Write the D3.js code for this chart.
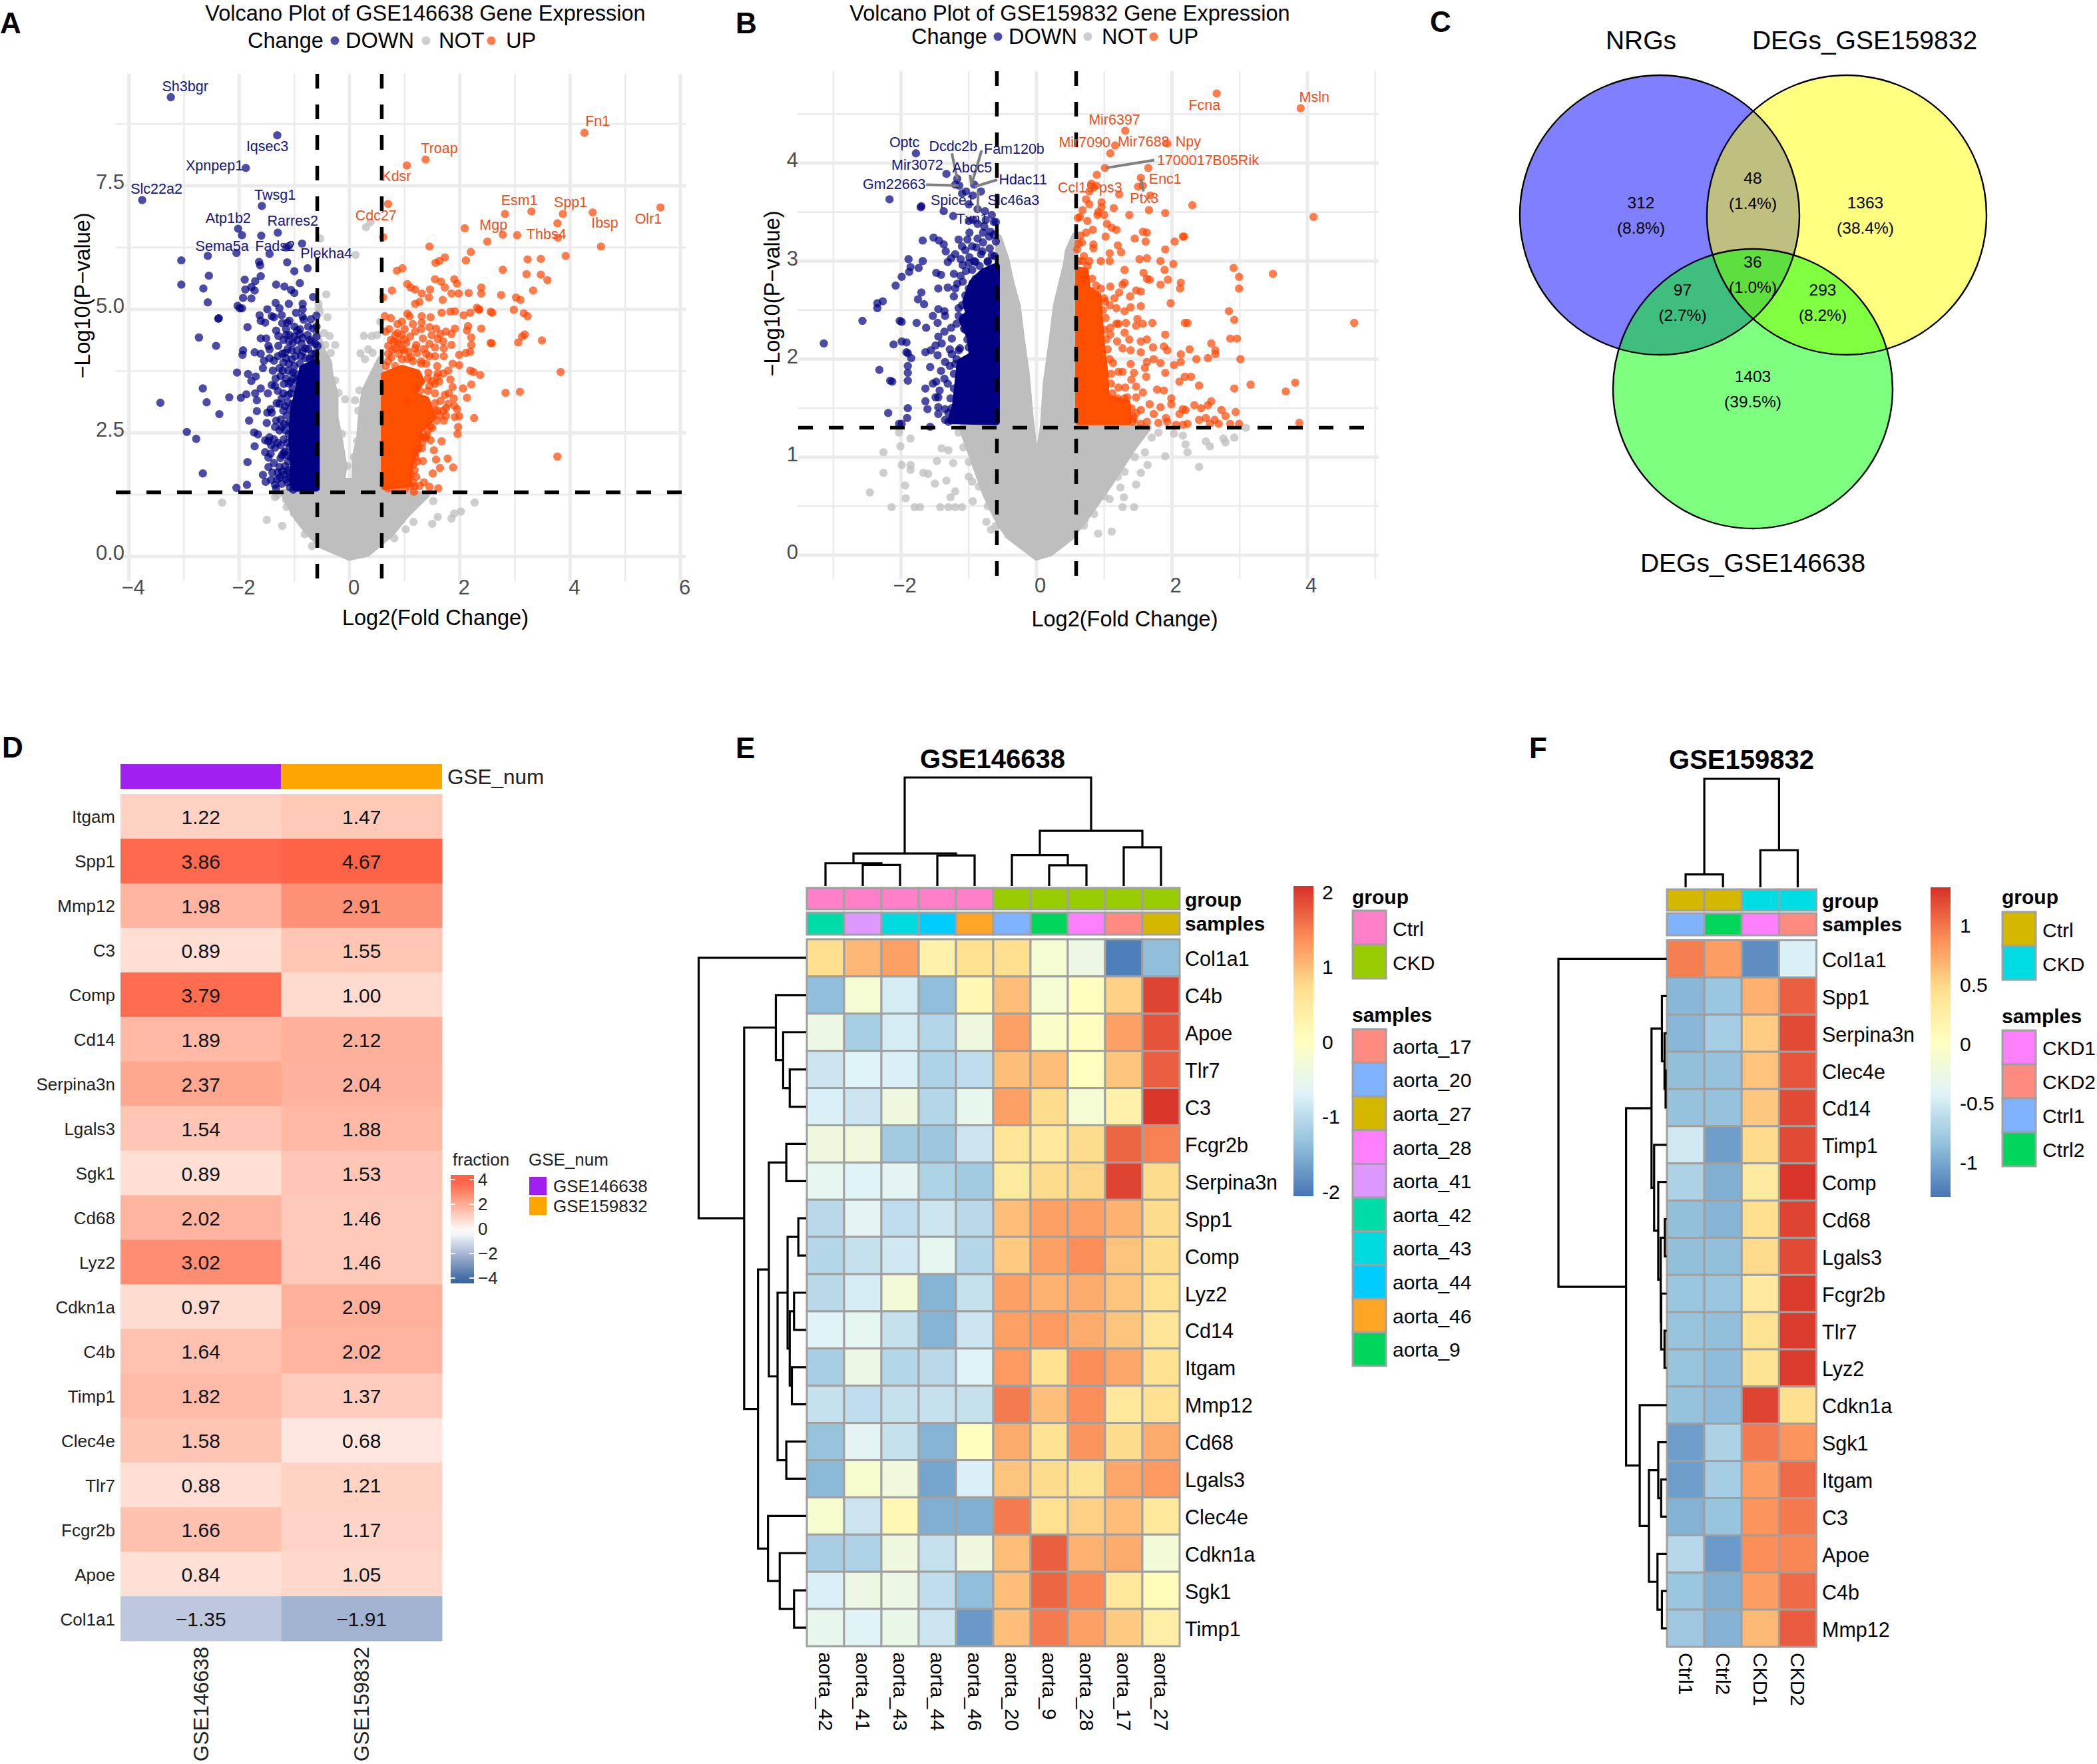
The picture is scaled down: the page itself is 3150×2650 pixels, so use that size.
<!DOCTYPE html>
<html><head><meta charset="utf-8">
<script src="https://cdn.jsdelivr.net/npm/d3@7/dist/d3.min.js"></script>
<style>html,body{margin:0;padding:0;background:#fff}svg{display:block}text{font-family:"Liberation Sans",Arial,sans-serif}</style>
</head><body><svg id="c" width="3150" height="2650" viewBox="0 0 3150 2650"></svg>
<script>
// ---------- Panel A: volcano GSE146638 (log2FC, -log10 P) ----------
const aDown=[[-3.24,9.29],[-1.31,8.52],[-1.88,7.86],[-3.76,7.21],[-1.59,7.09],[-2.02,6.63],[-1.95,6.5],[-1.6,6.49],[-1.3,6.55],[-.86,6.33],[-1.1,6.28],[-1.15,6.25],[-2.57,6.08],[-2.05,6.14],[-3.05,5.99],[-1.45,6.12],[-1.64,5.96],[-1.62,5.89],[-1.13,5.95],[-.76,5.83],[-1,5.77],[-2.55,5.68],[-1.61,5.67],[-1.9,5.6],[-3.05,5.5],[-2.65,5.42],[-1.89,5.4],[-1.71,5.57],[-1.78,5.45],[-1.72,5.38],[-1.33,5.5],[-.9,5.53],[-1.18,5.46],[-1.06,5.39],[-1.78,5.22],[-1.93,5.23],[-1,5.33],[-.66,5.25],[-2.57,5.14],[-1.34,5.13],[-1.1,5.11],[-.85,5.11],[-2.03,5.07],[-1.95,5.02],
[-2.38,4.81],[-2.37,4.82],[-2.73,4.43],[-2.42,4.26],[-2.66,3.4],[-2.59,3.12],[-3.43,3.11],[-2.36,2.88],[-2.95,2.52],[-2.78,2.38],[-2.66,1.68],
[-1.99,5.02],[-1.63,4.88],[-1.61,4.77],[-1.53,4.73],[-1.41,4.86],[-1.37,4.84],[-1.23,4.88],[-1.09,4.77],[-1.13,4.73],[-.83,4.79],[-.85,5],[-.6,4.87],[-.97,4.93],[-1.49,5],[-1.27,5.02],[-1.85,4.64],[-1.33,4.57],[-1.29,4.46],[-1.61,4.41],[-1.51,4.41],[-1.09,4.48],[-1.15,4.48],[-.95,4.57],[-.76,4.48],[-.66,4.61],[-.7,4.34],[-.58,4.26],[-1.47,4.26],[-1.29,4.26],[-.87,4.3],[-1.03,4.32],[-.8,4.21],[-1.93,4.17],[-1.94,4.08],[-1.72,4.13],[-1.61,4.1],[-1.45,4.19],[-1.55,3.96],[-1.45,4.01],[-1.37,3.96],[-1.17,4.12],[-1.15,4.01],[-1.05,3.99],[-.95,4.17],[-.8,4.01],[-.68,4.1],[-1.05,4.17],[-1.57,3.81],[-1.39,3.76],[-1.27,3.81],[-1.11,3.76],[-1.03,3.72],[-2.04,3.72],[-1.84,3.69],[-1.7,3.64],[-1.78,3.55],[-1.34,3.6],[-.83,3.76],[-1.21,3.76],[-1.61,3.4],[-1.87,3.28],[-1.97,3.21],[-2.18,3.22],[-1.71,3.3],[-1.48,3.3],[-1.68,3.16],[-1.35,3.45],[-1.41,3.47],[-1.19,3.49],[-1.07,3.54],[-1.23,3.2],[-1.11,3.27],[-1.03,3.4],[-1.68,2.94],[-1.43,2.98],[-1.49,2.91],[-1.41,2.91],[-1.82,2.75],[-1.5,2.7],[-1.27,3.09],[-1.17,3.04],[-1.25,2.77],[-1.03,3.09],[-1.73,2.51],[-1.66,2.47],[-1.23,2.62],[-1.27,2.55],[-1.19,2.37],[-1.45,2.41],[-1.53,2.35],[-1.47,2.33],[-1.37,2.37],[-1.05,2.66],[-1.72,2.23],[-1.53,2.11],[-1.43,2.08],[-1.47,2],[-1.25,1.99],[-1.17,2.12],[-1.85,1.91],[-1.47,1.81],[-1.37,1.89],[-1.27,1.81],[-1.19,2.1],[-1.57,1.65],[-1.52,1.51],[-1.86,1.45],[-2.05,1.39],[-1.31,1.56],[-1.35,1.45],[-1.19,1.65],[-1.33,1.38],[-1.15,1.56],[-1.23,1.47],[-1.09,1.7],[-1.11,1.92],[-1.17,1.83],
[-1.1,3.5],[-1.06,3.3],[-1.12,3.12],[-1.08,2.98],[-1.14,2.85],[-1.1,2.7],[-1.16,2.55],[-1.1,2.48],[-1.13,2.3],[-1.08,2.22],[-1.13,2.05],[-1.06,2],[-1.12,1.75],[-1.07,1.6],[-1.12,1.5],[-1.08,1.4],[-1.02,1.35],[-.96,3.55],[-.9,3.62],[-.98,3.7],[-.72,3.85],[-.66,3.98],[-.9,3.9],[-.88,4.05],[-.75,4.2],[-.62,4.1],[-.72,4.38],[-.85,4.42],[-.95,4.38],[-.6,4.45],[-1,3.85],[-1.1,3.9],[-1.2,3.92],[-1.2,3.3],[-1.3,3.35],[-1.32,3.1],[-1.2,2.95],[-1.33,2.75],[-1.18,2.68],[-1.3,2.3],[-1.35,2.2],[-1.25,2.25],[-1.22,2.05],[-1.3,1.7],[-1.22,1.72],[-1.26,1.6],[-1.42,1.55],[-1.4,1.7],[-1.42,2.25],[-1.35,2.62],[-.9,4.6],[-.75,4.65],[-.85,4.85],[-.7,4.8],[-1,4.65],[-1.15,4.6],[-1.22,4.72],[-.6,4.65],[-.62,4.3],[-.9,4.5],[-1,4.45],[-1.1,4.35],[-1.2,4.38],[-1.22,4.1],[-.85,4.15],[-1.12,4.2],[-.98,4.05],[-.72,4],[-1.3,4.05],[-1.25,3.65],[-1.15,3.6],[-1.02,3.6]];
const aUp=[[4.26,8.57],[1.38,8.03],[1.04,7.91],[.7,7.13],[5.64,7.06],[3.3,6.98],[2.82,6.93],[3.87,6.93],[4.41,6.96],[3.77,6.74],[2.09,6.64],[.61,6.46],[2.78,6.51],[3.04,6.5],[3.78,6.45],[2.5,6.37],[1.45,6.27],[4.56,6.27],[2.2,6.16],[3.92,6.08],[1.73,6.05],[1.63,5.98],[1.56,5.94],[2.11,5.99],[3.23,6.01],[3.47,6.02],[.86,5.78],[.96,5.83],[2.78,5.8],[3.21,5.71],[3.47,5.7],[3.59,5.59],[1.55,5.61],[1.66,5.56],[1.9,5.61],[1.95,5.52],[1.05,5.51],[1.19,5.4],[1.11,5.44],[1.73,5.44],[1.85,5.32],[1.98,5.32],[2.16,5.33],[2.39,5.44],[2.39,5.32],[.77,5.38],[.61,5.24],[1.46,5.4],[1.31,5.32],[1.44,5.24],[1.27,5.15],[1.19,5.11],[1.69,5.19],[2.75,5.29],[3.33,5.38],[3.02,5.24],[3.1,5.19],[2.31,5.03],[2.35,4.99],[2.98,4.99],[3.16,4.92],[3.23,4.86],[3.18,4.49],[3.13,4.45],[3.06,4.33],[3.49,4.37],[2.59,4.93],[3.83,3.73],[2.83,3.31],[3.09,3.33],[3.77,2.02],[2.58,4.31],
[.64,4.86],[.75,4.82],[.87,4.7],[1.05,4.91],[1.09,4.86],[1.31,4.86],[1.47,4.84],[1.31,4.73],[1.67,4.93],[1.83,4.95],[1.91,4.96],[2.07,4.88],[2.19,4.93],[2.35,5],[2.56,4.95],[2.15,4.66],[2.39,4.61],[1.45,4.64],[1.57,4.61],[1.91,4.61],[.83,4.48],[.95,4.48],[1.19,4.55],[.87,4.34],[1.03,4.32],[1.21,4.28],[1.33,4.41],[1.49,4.48],[1.65,4.5],[1.85,4.5],[2.13,4.57],[2.21,4.43],[2.56,4.32],[2.21,4.28],[1.85,4.28],[.7,4.26],[1.55,4.23],[1.71,4.21],[1.99,4.08],[2.11,4.12],[2.19,4.14],[1.87,3.9],[1.99,3.87],[1.71,4.05],[1.55,4.05],[1.39,4.1],[1.23,4.12],[1.07,4.14],[.95,3.99],[.76,4.03],[1.59,3.85],[1.39,3.9],[.66,3.85],[.83,3.85],[1.79,3.76],[2.19,3.76],[2.25,3.73],[2.37,3.67],[2.21,3.48],[2.06,3.4],[2.13,3.21],[1.87,3.43],[1.83,3.58],[1.89,3.2],[1.63,3.54],[1.73,3.27],[1.55,3.49],[1.59,3.63],[1.43,3.72],[1.95,2.98],[1.99,2.84],[1.91,2.82],[2.26,2.8],[1.97,2.62],[1.96,2.48],[1.75,3],[1.79,3.09],[1.63,2.86],[1.71,2.75],[1.55,2.95],[1.47,2.64],[1.67,2.33],[1.47,2.35],[1.37,2.41],[1.31,2.19],[1.53,2.15],[1.57,1.96],[1.78,1.98],[1.33,1.93],[1.64,1.79],[1.88,1.8],[1.51,1.68],[1.21,1.61],[1.23,1.92],[1.35,1.5],[1.45,1.41],[1.61,1.38],[1.27,1.43],[1.17,1.31],[.87,4.52],[.99,4.39],[.83,4.21],[.99,4.17],[1.19,4.21],[1.11,4.03],
[.7,4.1],[.78,4.18],[.9,4.1],[1.05,4],[1.15,3.95],[1.3,3.9],[1.42,3.6],[1.45,3.45],[1.2,3.4],[1.28,3.35],[1.42,3.35],[1.05,3.15],[1.55,3.1],[1.6,2.95],[1.58,2.75],[1.5,2.6],[1.42,2.55],[1.38,2.4],[1.3,2.42],[1.32,2.3],[1.25,2.18],[1.2,2.1],[1.2,2],[1.15,1.85],[1.18,1.75],[1.12,1.65],[1.15,1.5],[1.1,1.42],[1.18,1.42],[.7,1.38],[.85,1.36],[1,1.36],[.75,4.38],[.9,4.3],[.65,4.55],[.95,4.2],[.7,3.95],[.95,4.75],[1.15,4.7],[.72,4.6],[.8,4.35],[1,4.6],[1.1,4.45],[1.3,4.6],[1.35,4.2],[1.45,4.3],[1.45,4.05],[1.3,3.95],[1.6,4.4],[1.7,4.35],[1.75,4.55],[1.6,3.7],[1.7,3.7],[1.5,3.55],[1.55,3.3],[1.65,3.15],[1.7,2.95],[1.75,2.85],[1.8,3.3],[1.9,3.05],[1.4,2.45]];
const aNot=[[-.53,6.43],[.11,6.1],[.3,6.66],[.38,6.76],[-.42,5.3],[-.56,5.11],[-.56,5.02],[-.54,4.95],[-.4,4.84],[-.46,4.52],[-.36,4.46],[-.26,4.28],[-.34,4.12],[-.44,4.28],[.26,4.46],[.4,4.46],[.5,4.48],[.34,4.19],[.2,4.11],[.28,3.99],[.42,4.12],[.56,4.75],[-.08,3.18],[.1,3.16],[.18,3.36],[-.2,3.31],[.16,2.95],[-.14,2.48],[.14,2.33],[.08,2.01],[-.04,1.83],[-.38,3.87],[-.26,3.56],
[-2.31,1.09],[-1.5,.74],[-1.22,.62],[-1.14,1],[-1.01,.87],[-.85,.66],[-.81,.45],[-.68,.21],[-1.31,1.24],[-1.35,1.2],[2.27,1.09],[2.02,.91],[1.9,.87],[1.85,.77],[1.6,.8],[1.5,.66],[1.16,.7],[1.02,.55],[.81,.37],[1.52,1.12],[1.19,1.08],[.98,.95],[-1.15,1.15],[-1.05,1.05],[-.9,.85],[-.75,.65],[1.15,1.2],[1.05,1.05],[.9,.8],[.75,.55],[1.25,1.18],[.6,.35]];
const aNotMass=[[0,-.02],[-.5,.22],[-.74,.48],[-.95,.78],[-1.12,1.12],[-1.2,1.3],[-.6,1.3],[-.6,4.55],[-.5,4.17],[-.38,3.94],[-.36,3.72],[-.26,3.27],[-.26,2.82],[-.18,2.37],[-.1,1.83],[-.14,1.52],[.1,1.52],[.1,2.01],[.18,2.37],[.2,2.68],[.24,3.09],[.28,3.36],[.44,3.72],[.56,3.99],[.58,1.3],[1.4,1.25],[1.05,.87],[.75,.46],[.32,.06]];
const aDownMass=[[-.6,3.94],[-.85,3.81],[-.93,3.36],[-1.02,2.95],[-1.05,2.37],[-1.02,1.92],[-1.03,1.47],[-.98,1.38],[-.6,1.38]];
const aUpMass=[[.63,3.67],[.95,3.81],[1.23,3.72],[1.31,3.54],[1.11,3.27],[1.39,3.18],[1.51,2.82],[1.27,2.55],[1.23,2.28],[1.09,1.83],[1.07,1.47],[.63,1.41]];
const aDownLabels=[["Sh3bgr",-2.98,9.5],["Iqsec3",-1.49,8.3],["Xpnpep1",-2.45,7.91],["Slc22a2",-3.5,7.43],["Twsg1",-1.35,7.31],["Atp1b2",-2.2,6.84],["Rarres2",-1.03,6.78],["Sema5a",-2.31,6.27],["Fads2",-1.35,6.27],["Plekha4",-.42,6.12]];
const aUpLabels=[["Fn1",4.5,8.8],["Troap",1.63,8.26],["Kdsr",.85,7.69],["Cdc27",.48,6.9],["Esm1",3.08,7.2],["Spp1",4.01,7.16],["Mgp",2.61,6.7],["Thbs4",3.57,6.52],["Ibsp",4.63,6.74],["Olr1",5.42,6.83]];
// ---------- Panel B: volcano GSE159832 ----------
const bDown=[[-1.78,4.1],[-1.33,3.89],[-1.17,3.84],[-1.2,3.78],[-1.14,3.77],[-.92,3.78],[-.82,3.71],[-2.17,3.63],[-1.7,3.56],[-1.1,3.69],[-1.04,3.71],[-.94,3.67],[-1,3.58],[-2.27,2.59],[-2.35,2.57],[-2.35,2.52],[-2.57,2.39],[-3.14,2.16],[-2.32,1.89],[-2.16,1.78],[-2.19,1.45],[-2.03,1.34],[-1.57,1.31],
[-1.71,3.55],[-1.37,3.51],[-1.23,3.46],[-1,3.41],[-.87,3.53],[-.76,3.51],[-.66,3.47],[-.87,3.38],[-.77,3.35],[-.63,3.4],[-.99,3.29],[-.79,3.29],[-.63,3.27],[-1.15,3.22],[-.87,3.23],[-1.02,3.22],[-1.68,3.21],[-1.52,3.24],[-1.44,3.21],[-1.37,3.17],[-1.34,3.1],[-1.1,3.15],[-1.05,3.11],[-.89,3.14],[-.79,3.19],[-.69,3.13],[-1.2,3.07],[-1.26,3.03],[-1.31,2.99],[-1.12,3.02],[-.99,3.04],[-.82,3.07],[-.66,3.06],[-.9,2.99],[-1.09,2.96],[-.72,2.99],[-1.04,2.9],[-.95,2.91],[-1.89,3.02],[-1.68,3],[-1.86,2.94],[-1.74,2.93],[-1.88,2.89],[-1.99,2.84],[-1.48,2.88],[-1.41,2.86],[-1.22,2.87],[-2.08,2.75],[-1.45,2.72],[-1.31,2.73],[-1.17,2.77],[-1.7,2.68],[-1.2,2.72],[-1.22,2.64],[-1.75,2.61],[-1.66,2.56],[-1.09,2.79],[-1.45,2.51],[-1.36,2.49],[-1.35,2.44],[-1.53,2.44],[-1.46,2.37],[-1.15,2.44],[-2.02,2.39],[-1.99,2.38],[-1.77,2.37],[-1.63,2.32],[-1.36,2.28],[-1.26,2.32],[-1.18,2.36],[-1.07,2.31],[-1.45,2.23],[-1.25,2.21],[-1.4,2.16],[-1.49,2.14],[-1.13,2.11],[-1.99,2.18],[-1.92,2.17],[-2.11,2.15],[-1.64,2.07],[-1.56,2.09],[-1.92,2.07],[-1.9,2.06],[-1.85,2.01],[-1.46,2.04],[-1.15,2.09],[-1.57,1.92],[-1.9,1.93],[-1.9,1.86],[-1.9,1.78],[-1.35,1.97],[-1.28,1.93],[-1.41,1.88],[-1.48,1.77],[-1.36,1.8],[-1.31,1.75],[-2.13,1.77],[-1.64,1.7],[-1.53,1.75],[-1.43,1.68],[-1.49,1.61],[-1.45,1.61],[-1.64,1.57],[-1.9,1.5],[-1.61,1.49],[-1.45,1.51],[-1.35,1.49],[-1.45,1.44],[-1.91,1.4],[-1.99,1.34],[-1.3,1.36],
[-1.05,2.65],[-1,2.72],[-.9,2.82],[-.84,2.95],[-.72,3],[-.62,3.05],[-1.1,2.55],[-1.15,2.52],[-1.08,2.42],[-1.05,2.3],[-1.02,2.2],[-1,2.12],[-.95,2.1],[-1.2,1.95],[-1.22,1.85],[-1.22,1.7],[-1.27,1.6],[-1.25,1.5],[-1.3,1.45],[-1.35,1.38],[-1.18,2],[-1.25,2.05],[-1.28,2.1],[-.92,3],[-.8,3.1],[-.95,3.15],[-.7,3.25],[-.75,3.42],[-.68,3.3],[-.93,3.42],[-1.12,2.85],[-1,2.98],[-.6,3.2],[-.6,3.4]];
const bUp=[[2.66,4.71],[3.9,4.56],[1.31,4.33],[1.16,4.18],[1.09,4.1],[1.93,4.2],[1.01,3.95],[1.65,3.95],[.89,3.88],[1.54,3.85],[1.5,3.76],[1.57,3.77],[.81,3.79],[.84,3.75],[.78,3.71],[.88,3.77],[1.22,3.68],[1.68,3.67],[.73,3.63],[.96,3.6],[2.3,3.57],[4.09,3.45],[.78,3.58],[.91,3.5],[.61,3.44],[2.18,3.25],[2.91,2.93],[3.49,2.87],[2.99,2.84],[2.99,2.72],[2.84,2.49],[2.92,2.4],[2.23,2.37],[4.69,2.37],[2.86,2.21],[2.96,2.21],[2.58,2.16],[2.64,2.09],[2.64,2.05],[2.53,2.01],[2.26,2.1],[2.36,2],[3.01,2],[3.16,1.74],[3.82,1.76],[3.68,1.67],[2.92,1.7],[2.28,1.82],[2.4,1.73],[2.58,1.57],[2.53,1.53],[2.33,1.53],[2.43,1.5],[2.2,1.48],[2.73,1.48],[2.94,1.46],[2.79,1.42],[2.5,1.4],[2.63,1.38],[2.4,1.38],[2.23,1.34],[2.86,1.34],[2.99,1.34],[2.69,1.34],[2.56,1.34],[3.88,1.35],
[.68,3.52],[.96,3.55],[1.14,3.54],[1.37,3.47],[1.66,3.52],[1.9,3.49],[.64,3.45],[.75,3.41],[.9,3.47],[1,3.47],[1.04,3.38],[1.11,3.34],[1.18,3.32],[.83,3.32],[.73,3.29],[.65,3.26],[.67,3.19],[.84,3.17],[.84,3.13],[1.02,3.25],[1.45,3.23],[1.57,3.3],[1.63,3.29],[1.61,3.2],[1.2,3.16],[1.25,3.09],[1.08,3.08],[1.9,3.12],[2.04,3.2],[2.16,3.25],[.78,3],[.95,3],[1.08,3],[1.52,3.02],[1.63,3.03],[1.83,3],[2.02,2.97],[1.3,2.91],[1.58,2.88],[1.89,2.91],[1.63,2.82],[1.67,2.81],[1.94,2.81],[1.83,2.76],[1.3,2.78],[1.27,2.76],[2.13,2.78],[2.12,2.72],[1.09,2.74],[1.22,2.68],[1.38,2.64],[1.47,2.7],[1.54,2.69],[1.98,2.57],[1.54,2.54],[1.01,2.59],[1.18,2.52],[1.3,2.49],[1.39,2.53],[1.49,2.41],[1.32,2.37],[1.47,2.34],[1.57,2.36],[1.71,2.37],[1.9,2.25],[1.3,2.27],[1.18,2.36],[1.21,2.36],[1.09,2.32],[2.19,2.37],[1.09,2.25],[1.19,2.18],[1.37,2.2],[1.54,2.18],[1.63,2.2],[1.72,2.12],[1.88,2.13],[1.93,2.09],[1.27,2.11],[1.39,2.09],[1.54,2.07],[2.13,2.05],[2.03,1.94],[2.13,1.97],[1.63,1.97],[1.73,2],[1.83,1.96],[1.9,1.86],[1.6,1.91],[1.13,1.96],[1.39,1.95],[1.21,1.87],[1.27,1.87],[1.44,1.86],[1.62,1.82],[2.11,1.77],[2.19,1.82],[1.4,1.79],[1.47,1.72],[1.21,1.71],[1.31,1.71],[1.78,1.69],[1.88,1.68],[1.57,1.66],[1.99,1.6],[1.99,1.54],[1.67,1.54],[1.47,1.61],[1.34,1.61],[1.83,1.51],[2.16,1.49],[1.54,1.48],[1.73,1.44],[1.47,1.45],[2.11,1.44],[1.91,1.4],[1.44,1.39],[1.63,1.36],[1.8,1.35],[1.93,1.36],[2.06,1.33],[1.54,1.34],[2.16,1.33],
[.68,3],[.75,2.95],[.82,2.82],[.88,2.75],[.95,2.72],[1,2.62],[.98,2.5],[1.02,2.42],[1,2.3],[1.03,2.2],[1.05,2.1],[1.08,2],[1.1,1.85],[1.1,1.75],[1.12,1.65],[1.2,1.6],[1.3,1.6],[1.4,1.5],[1.42,1.42],[1.42,1.36],[.62,3],[.68,2.8],[.6,3.12],[.62,3.18],[.72,2.85],[1.08,2.55],[1.15,2.62],[.7,3.05]];
const bNot=[[-2.46,.64],[-2.26,1.05],[-2.26,.84],[-2.14,.49],[-2.01,1.11],[-2.03,1.25],[-1.86,1.19],[-1.99,.92],[-1.86,.92],[-1.86,.87],[-1.94,.71],[-1.93,.58],[-1.8,.49],[-1.72,.49],[-1.67,.84],[-1.6,.83],[-1.5,.73],[-1.47,.96],[-1.4,1.09],[-1.3,1.07],[-1.23,.94],[-1.42,.49],[-1.3,.49],[-1.2,.49],[-1.1,.49],[-.94,.55],[-1.27,.59],[-1.2,.65],[-1.33,.76],[-1,.8],[-.74,.34],[-.67,.26],[-.54,.3],[2.4,.9],[3.09,1.3],[2.92,1.2],[2.79,1.15],[2.76,1.19],[2.56,1.11],[2.5,1.16],[2.2,1.13],[2.23,1.05],[2.16,1.22],[2.03,1.24],[1.9,1.01],[1.64,.92],[1.54,.84],[1.47,.72],[1.44,.49],[1.27,.49],[1.29,.59],[1.08,.57],[1.11,.24],[.91,.22],[.71,.36],[1.24,.69],[1.04,.76],[-1.15,1.25],[-1.08,1.1],[-1,.95],[-.95,.75],[-.85,.7],[-.72,.5],[-.6,.3],[1.7,1.2],[1.6,1.05],[1.45,1],[1.3,.85],[1.2,.8],[1,.6],[.85,.42],[.7,.3],[1.8,1.25],[1.55,1.25]];
const bNotMass=[[0,-.02],[-.42,.2],[-.6,.4],[-.75,.62],[-.92,.95],[-1.05,1.2],[-1.1,1.3],[-.58,1.3],[-.56,3.24],[-.45,3.02],[-.38,2.79],[-.28,2.54],[-.22,2.2],[-.15,1.86],[-.09,1.39],[0,.88],[.1,1.32],[.14,1.75],[.23,2.2],[.29,2.54],[.39,2.83],[.44,2.97],[.47,3.11],[.57,3.26],[.58,1.3],[1.65,1.3],[1.45,1.12],[1.1,.75],[.8,.45],[.5,.18],[.2,.02]];
const bDownMass=[[-.59,2.95],[-.79,2.89],[-.95,2.78],[-1.05,2.58],[-1,2.47],[-1.1,2.4],[-.98,2.22],[-.95,2.04],[-1.13,1.97],[-1.17,1.7],[-1.2,1.52],[-1.27,1.37],[-.59,1.36]];
const bUpMass=[[.62,2.91],[.72,2.9],[.75,2.72],[.91,2.65],[.93,2.43],[.96,2.16],[1.01,1.86],[1.03,1.61],[1.34,1.55],[1.36,1.36],[.62,1.36]];
const bDownLabels=[["Optc",-1.95,4.21],["Dcdc2b",-1.23,4.17],["Fam120b",-.33,4.14],["Mir3072",-1.76,3.98],["Abcc5",-.95,3.95],["Gm22663",-2.1,3.78],["Hdac11",-.2,3.83],["Spice1",-1.24,3.62],["Slc46a3",-.34,3.62],["Txn1",-.95,3.43]];
const bUpLabels=[["Msln",4.1,4.67],["Fcna",2.48,4.59],["Mir6397",1.15,4.44],["Mir7090",.71,4.21],["Mir7688",1.58,4.22],["Npy",2.24,4.22],["1700017B05Rik",2.53,4.03],["Enc1",1.9,3.84],["Ccl19-ps3",.79,3.75],["Ptx3",1.59,3.64]];
const bSegments=[[-1.25,4.1,-1.17,3.84],[-.81,4.13,-.96,3.78],[-1.63,3.78,-1.15,3.77],[-.58,3.83,-.91,3.76],[-.86,3.71,-.87,3.5],[-.98,3.88,-.96,3.78],[1.74,4.03,1.02,3.95],[1.54,3.84,1.58,3.71]];
// ---------- Panel C: Venn ----------
const vennNames=["NRGs","DEGs_GSE159832","DEGs_GSE146638"];
const vennFills=["#0000ff","#ffff00","#00ff00"];
const vennCounts=["312","48","1363","97","36","293","1403"];
const vennPercents=["(8.8%)","(1.4%)","(38.4%)","(2.7%)","(1.0%)","(8.2%)","(39.5%)"];
// ---------- Panel D: log2FC table ----------
const dGenes=["Itgam","Spp1","Mmp12","C3","Comp","Cd14","Serpina3n","Lgals3","Sgk1","Cd68","Lyz2","Cdkn1a","C4b","Timp1","Clec4e","Tlr7","Fcgr2b","Apoe","Col1a1"];
const dDatasets=["GSE146638","GSE159832"];
const dGSE146638=[1.22,3.86,1.98,.89,3.79,1.89,2.37,1.54,.89,2.02,3.02,.97,1.64,1.82,1.58,.88,1.66,.84,-1.35];
const dGSE159832=[1.47,4.67,2.91,1.55,1.00,2.12,2.04,1.88,1.53,1.46,1.46,2.09,2.02,1.37,.68,1.21,1.17,1.05,-1.91];
const dLegendTicks=[4,2,0,-2,-4];
// ---------- Panel E: clustered heatmap GSE146638 ----------
const eRows=["Col1a1","C4b","Apoe","Tlr7","C3","Fcgr2b","Serpina3n","Spp1","Comp","Lyz2","Cd14","Itgam","Mmp12","Cd68","Lgals3","Clec4e","Cdkn1a","Sgk1","Timp1"];
const eCols=["aorta_42","aorta_41","aorta_43","aorta_44","aorta_46","aorta_20","aorta_9","aorta_28","aorta_17","aorta_27"];
const eGroups=["Ctrl","Ctrl","Ctrl","Ctrl","Ctrl","CKD","CKD","CKD","CKD","CKD"];
const eMatrix=[[.72,1.05,1.25,.35,.7,.72,-.2,-.4,-1.95,-1.35],[-1.35,-.2,-.75,-1.35,.2,1,-.2,.05,.85,1.95],[-.4,-1.15,-.75,-1.05,-.35,1.25,-.1,0,1.25,1.85],[-.85,-.65,-.7,-1.1,-.95,1,1,.03,.95,1.75],[-.7,-.85,-.35,-1.05,-.5,1.25,.75,-.2,.35,2.05],[-.35,-.3,-1.2,-1.25,-.85,.6,.55,.75,1.7,1.5],[-.55,-.65,-.6,-1.1,-1.2,.5,.75,.8,1.95,.75],[-1,-.6,-.95,-.85,-1,1,1.25,1.25,1.1,.75],[-1.05,-.9,-.8,-.55,-1.05,.9,1.25,1.4,.95,.75],[-1,-.75,-.25,-1.45,-.9,1.25,1.1,1.15,.95,.7],[-.65,-.55,-.9,-1.45,-.85,1.25,1.3,1.15,.95,.6],[-1.15,-.4,-1.05,-1,-.65,1.3,.7,1.4,1.2,.7],[-.9,-.95,-.9,-.9,-.9,1.55,1,1.4,.55,.7],[-1.3,-.6,-.9,-1.45,0,1.15,.65,1.35,.75,1.15],[-1.4,-.15,-.3,-1.6,-.7,.95,.75,.65,1.2,1.3],[-.15,-.85,.2,-1.5,-1.5,1.55,.7,.85,1,.55],[-1.15,-1.1,-.35,-.9,-.35,1,1.75,1.1,1.15,-.25],[-.7,-.4,-.4,-.95,-1.35,1,1.7,1.45,.55,.1],[-.5,-.65,-.45,-.85,-1.7,1,1.55,1.25,.9,.4]];
const eSampleLegend=["aorta_17","aorta_20","aorta_27","aorta_28","aorta_41","aorta_42","aorta_43","aorta_44","aorta_46","aorta_9"];
const eSampleColors=["#ff8a80","#7fb2ff","#d4b800","#ff80ff","#dd99ff","#00dca8","#00dbe0","#00ccff","#ffa526","#00d65c"];
const eGroupColors={Ctrl:"#ff7fc8",CKD:"#99cc00"};
// dendrograms: [height, childA, childB], numbers are leaf indices
const eColTree=[1,[.30,[.21,0,[.194,1,2]],[.282,3,4]],[.508,[.285,5,[.191,6,7]],[.357,8,9]]];
const eRowTree=[1,0,[.577,[.282,1,[.214,2,[.153,3,4]]],[.448,[.347,[.185,5,6],[.266,[.173,[.073,7,8],[.153,[.113,9,10],[.133,11,12]]],[.185,13,14]]],[.355,15,[.246,16,[.113,17,18]]]]]];
const eLegendTicks=[2,1,0,-1,-2];
const eDomain=[-2.04,2.1];
// ---------- Panel F: clustered heatmap GSE159832 ----------
const fRows=["Col1a1","Spp1","Serpina3n","Clec4e","Cd14","Timp1","Comp","Cd68","Lgals3","Fcgr2b","Tlr7","Lyz2","Cdkn1a","Sgk1","Itgam","C3","Apoe","C4b","Mmp12"];
const fCols=["Ctrl1","Ctrl2","CKD1","CKD2"];
const fGroups=["Ctrl","Ctrl","CKD","CKD"];
const fMatrix=[[.95,.8,-1.15,-.45],[-.9,-.8,.7,1.1],[-.9,-.75,.55,1.2],[-.85,-.83,.6,1.15],[-.83,-.83,.58,1.2],[-.5,-1.05,.48,1.2],[-.7,-.95,.3,1.3],[-.85,-.92,.45,1.23],[-.85,-.85,.48,1.2],[-.8,-.8,.32,1.27],[-.82,-.85,.42,1.27],[-.82,-.87,.42,1.27],[-.83,-.87,1.23,.45],[-1.05,-.7,.98,.85],[-1.05,-.75,.8,1.05],[-.93,-.82,.85,.98],[-.65,-1.07,.88,.92],[-.8,-.95,.8,1.05],[-.78,-.93,.65,1.12]];
const fSampleLegend=["CKD1","CKD2","Ctrl1","Ctrl2"];
const fSampleColors=["#ff80ff","#ff8a80","#7fb2ff","#00d65c"];
const fGroupColors={Ctrl:"#d4b800",CKD:"#00dce4"};
const fColTree=[1,[.119,0,1],[.342,2,3]];
const fRowTree=[1,0,[.375,[.14,[.044,1,[.02,2,[.01,3,4]]],[.116,5,[.078,6,[.055,[.017,7,8],[.051,9,[.02,10,11]]]]]],[.249,12,[.164,[.078,13,[.051,14,15]],[.085,16,[.044,17,18]]]]]];
const fLegendTicks=[1,.5,0,-.5,-1];
const fDomain=[-1.29,1.32];
const rdYlBu=["#4575b4","#91bfdb","#e0f3f8","#ffffbf","#fee090","#fc8d59","#d73027"];

const svg=d3.select("#c");
const txt=(g,s,x,y,size,o={})=>g.append("text").attr("x",x).attr("y",y).attr("font-size",size)
  .attr("text-anchor",o.anchor||"start").attr("dominant-baseline","central")
  .attr("font-weight",o.bold?"bold":"normal").attr("fill",o.fill||"#000")
  .attr("transform",o.rot?`rotate(${o.rot} ${x} ${y})`:null).text(s);

// ----- panel letters -----
[["A",0,34],["B",1105,34],["C",2148,32],["D",3,1122],["E",1105,1123],["F",2297,1123]].forEach(d=>txt(svg,d[0],d[1],d[2],44,{bold:true}));

// ----- volcano -----
function volcano(cfg){
  const g=svg.append("g");
  const x=d3.scaleLinear().domain(cfg.xDom).range(cfg.xRange);
  const y=d3.scaleLinear().domain(cfg.yDom).range(cfg.yRange);
  const [L,R,T,B]=cfg.box;
  const grid=(vals,w)=>{
    g.selectAll(null).data(vals.x).enter().append("line").attr("x1",d=>x(d)).attr("x2",d=>x(d)).attr("y1",T).attr("y2",B).attr("stroke","#ebebeb").attr("stroke-width",w);
    g.selectAll(null).data(vals.y).enter().append("line").attr("y1",d=>y(d)).attr("y2",d=>y(d)).attr("x1",L).attr("x2",R).attr("stroke","#ebebeb").attr("stroke-width",w);
  };
  grid(cfg.minor,2.6);grid(cfg.major,5);
  const poly=d3.line().x(d=>x(d[0])).y(d=>y(d[1])).curve(d3.curveLinearClosed);
  const mass=(pts,c)=>g.append("path").attr("d",poly(pts)).attr("fill",c).attr("stroke",c).attr("stroke-width",10).attr("stroke-linejoin","round");
  const dots=(pts,c,a)=>g.append("g").selectAll("circle").data(pts).enter().append("circle").attr("cx",d=>x(d[0])).attr("cy",d=>y(d[1])).attr("r",6.2).attr("fill",c).attr("fill-opacity",a);
  mass(cfg.notMass,"#bebebe");dots(cfg.not,"#bebebe",.75);
  mass(cfg.downMass,"#000080");mass(cfg.upMass,"#ff5000");
  dots(cfg.down,"#000080",.7);dots(cfg.up,"#ff4500",.7);
  const dash=(a,b,c,d)=>g.append("line").attr("x1",a).attr("y1",b).attr("x2",c).attr("y2",d).attr("stroke","#000").attr("stroke-width",5.5).attr("stroke-dasharray","22 24");
  dash(L,y(1.3),R,y(1.3));
  [-.585,.585].forEach(v=>dash(x(v),T,x(v),B));
  (cfg.segments||[]).forEach(s=>g.append("line").attr("x1",x(s[0])).attr("y1",y(s[1])).attr("x2",x(s[2])).attr("y2",y(s[3])).attr("stroke","#7f7f7f").attr("stroke-width",4));
  const lab=(arr,c)=>arr.forEach(d=>txt(g,d[0],x(d[1]),y(d[2]),21.5,{anchor:"middle",fill:c}));
  lab(cfg.downLabels,"#15157f");lab(cfg.upLabels,"#ee4f1a");
  // axes
  const ax=g.append("g").attr("transform",`translate(${cfg.xTickDx},${B-2})`).call(d3.axisBottom(x).tickValues(cfg.major.x).tickSize(0).tickPadding(0).tickFormat(d3.format("d")));
  const ay=g.append("g").attr("transform",`translate(${cfg.yTickX},${cfg.yTickDy})`).call(d3.axisLeft(y).tickValues(cfg.major.y).tickSize(0).tickPadding(0).tickFormat(cfg.yFmt));
  [ax,ay].forEach(a=>{a.select(".domain").remove();a.selectAll("text").attr("font-size",31).attr("fill","#4d4d4d").attr("font-family","Liberation Sans");});
  txt(g,cfg.title,cfg.titleX,20,32.5,{anchor:"middle"});
  txt(g,"Log2(Fold Change)",cfg.xLabel[0],cfg.xLabel[1],32.5,{anchor:"middle"});
  txt(g,"\u2212Log10(P\u2212value)",cfg.yLabel[0],cfg.yLabel[1],32.5,{anchor:"middle",rot:-90});
  const l=cfg.legend, ly=cfg.legendY;
  txt(g,"Change",l[0],ly,32.5);
  [["DOWN","#000080",.7,l[1],l[2]],["NOT","#bebebe",.75,l[3],l[4]],["UP","#ff4500",.7,l[5],l[6]]].forEach(e=>{
    g.append("circle").attr("cx",e[3]).attr("cy",ly).attr("r",6.5).attr("fill",e[1]).attr("fill-opacity",e[2]);
    txt(g,e[0],e[4],ly,32.5);
  });
}
volcano({xDom:[0,6],xRange:[525,1022],yDom:[0,7.5],yRange:[836,279],box:[174,1031,111,873],
  major:{x:[-4,-2,0,2,4,6],y:[0,2.5,5,7.5]},minor:{x:[-3,-1,1,3,5],y:[1.25,3.75,6.25,8.75]},
  not:aNot,notMass:aNotMass,down:aDown,downMass:aDownMass,up:aUp,upMass:aUpMass,downLabels:aDownLabels,upLabels:aUpLabels,
  xTickDx:6,yTickX:187,yTickDy:-5,yFmt:d3.format(".1f"),title:"Volcano Plot of GSE146638 Gene Expression",titleX:639,
  xLabel:[654,928],yLabel:[124,444],legend:[372,503,519,640,659,738,760],legendY:61});
volcano({xDom:[0,4],xRange:[1557,1964],yDom:[0,4],yRange:[834,245],box:[1199,2071,107,870],
  major:{x:[-2,0,2,4],y:[0,1,2,3,4]},minor:{x:[-3,-1,1,3,5],y:[.5,1.5,2.5,3.5,4.5]},
  not:bNot,notMass:bNotMass,down:bDown,downMass:bDownMass,up:bUp,upMass:bUpMass,downLabels:bDownLabels,upLabels:bUpLabels,segments:bSegments,
  xTickDx:5,yTickX:1199,yTickDy:-4,yFmt:d3.format("d"),title:"Volcano Plot of GSE159832 Gene Expression",titleX:1607,
  xLabel:[1689.5,929.6],yLabel:[1160,441],legend:[1369,1499,1515,1634,1655,1733,1755],legendY:55});

// ----- venn -----
(function(){
  const g=svg.append("g"),centers=[[2493,323],[2774,323],[2633,584]];
  centers.forEach((c,i)=>g.append("circle").attr("cx",c[0]).attr("cy",c[1]).attr("r",210).attr("fill",vennFills[i]).attr("fill-opacity",.5));
  centers.forEach(c=>g.append("circle").attr("cx",c[0]).attr("cy",c[1]).attr("r",210).attr("fill","none").attr("stroke","#000").attr("stroke-width",2.4));
  [[2465,60],[2801,60],[2633,845]].forEach((p,i)=>txt(g,vennNames[i],p[0],p[1],39,{anchor:"middle"}));
  [[2465,304],[2633,267],[2802,304],[2527.5,435],[2633,393],[2738,435],[2633,565]].forEach((p,i)=>{
    txt(g,vennCounts[i],p[0],p[1],24.5,{anchor:"middle"});
    txt(g,vennPercents[i],p[0],p[1]+38.5,24.5,{anchor:"middle"});
  });
})();

// ----- panel D -----
(function(){
  const g=svg.append("g");
  const c=d3.scaleLinear().domain([-4,0,4]).range(["#34669f","#ffffff","#ff6347"]).interpolate(d3.interpolateLab).clamp(true);
  const x=d3.scaleBand().domain(dDatasets).range([181,664]);
  const y=d3.scaleBand().domain(dGenes).range([1193,2465]);
  const cols=[dGSE146638,dGSE159832];
  const annot=["#a020f0","#ffa500"];
  dDatasets.forEach((ds,j)=>{
    g.append("rect").attr("x",x(ds)).attr("y",1148).attr("width",x.bandwidth()).attr("height",37).attr("fill",annot[j]);
    g.selectAll(null).data(cols[j]).enter().append("rect").attr("x",x(ds)).attr("y",(d,i)=>y(dGenes[i])).attr("width",x.bandwidth()+.5).attr("height",y.bandwidth()+.5).attr("fill",d=>c(d));
    cols[j].forEach((v,i)=>txt(g,d3.format(".2f")(v),x(ds)+x.bandwidth()/2,y(dGenes[i])+y.bandwidth()/2+1,30,{anchor:"middle",fill:"#111"}));
    txt(g,ds,x(ds)+x.bandwidth()/2,2474,31.6,{rot:-90,anchor:"end",fill:"#222"});
  });
  dGenes.forEach(n=>txt(g,n,173,y(n)+y.bandwidth()/2+1,26,{anchor:"end",fill:"#222"}));
  txt(g,"GSE_num",672,1167,31.5,{fill:"#222"});
  txt(g,"fraction",680,1742,26,{fill:"#222"});txt(g,"GSE_num",794,1742,26,{fill:"#222"});
  const grad=svg.append("defs").append("linearGradient").attr("id","gd").attr("x1",0).attr("x2",0).attr("y1",1).attr("y2",0);
  d3.range(0,1.001,.05).forEach(t=>grad.append("stop").attr("offset",t).attr("stop-color",c(-4.2+8.8*t)));
  const ly=d3.scaleLinear().domain([4,-4]).range([1772,1920]);
  g.append("rect").attr("x",677).attr("y",1765).attr("width",35).attr("height",163).attr("fill","url(#gd)");
  dLegendTicks.forEach(t=>{
    g.append("line").attr("x1",677).attr("x2",684).attr("y1",ly(t)).attr("y2",ly(t)).attr("stroke","#fff").attr("stroke-width",2);
    g.append("line").attr("x1",705).attr("x2",712).attr("y1",ly(t)).attr("y2",ly(t)).attr("stroke","#fff").attr("stroke-width",2);
    txt(g,d3.format("d")(t),718,ly(t),26,{fill:"#222"});
  });
  dDatasets.forEach((ds,j)=>{
    g.append("rect").attr("x",795).attr("y",1768+j*30).attr("width",26).attr("height",27).attr("fill",annot[j]);
    txt(g,ds,831,1782+j*30,26,{fill:"#222"});
  });
})();

// ----- clustered heatmap -----
function pheat(o){
  const g=svg.append("g"),BORDER="#a0a0a0";
  const x=d3.scaleBand().domain(o.cols).range(o.xr),y=d3.scaleBand().domain(o.rows).range(o.yr);
  const dom=o.domain,stops=rdYlBu.map((_,i)=>dom[0]+(dom[1]-dom[0])*i/6);
  const c=d3.scaleLinear().domain(stops).range(rdYlBu).interpolate(d3.interpolateRgb);
  const cell=(xx,yy,w,h,f)=>g.append("rect").attr("x",xx).attr("y",yy).attr("width",w).attr("height",h).attr("fill",f).attr("stroke",BORDER).attr("stroke-width",3);
  o.matrix.forEach((row,i)=>row.forEach((v,j)=>cell(x(o.cols[j]),y(o.rows[i]),x.bandwidth(),y.bandwidth(),c(v))));
  o.cols.forEach((n,j)=>{
    cell(x(n),o.groupY[0],x.bandwidth(),o.groupY[1]-o.groupY[0],o.groupColors[o.groups[j]]);
    cell(x(n),o.sampleY[0],x.bandwidth(),o.sampleY[1]-o.sampleY[0],o.sampleColors[o.sampleLegend.indexOf(n)]);
    txt(g,n,x(n)+x.bandwidth()/2,o.yr[1]+9,30,{rot:90});
  });
  o.rows.forEach(n=>txt(g,n,o.labelX,y(n)+y.bandwidth()/2+1.5,30.5));
  txt(g,"group",o.labelX,(o.groupY[0]+o.groupY[1])/2+1,30,{bold:true});
  txt(g,"samples",o.labelX,(o.sampleY[0]+o.sampleY[1])/2,30,{bold:true});
  txt(g,o.title,o.titleX,o.titleY,40,{bold:true,anchor:"middle"});
  // dendrograms
  const tg=g.append("g").attr("fill","none").attr("stroke","#000").attr("stroke-width",3.2);
  const hc=d3.scaleLinear().domain([0,1]).range(o.colTreeRange), hr=d3.scaleLinear().domain([0,1]).range(o.rowTreeRange);
  const walk=(node,leaf,h,vert)=>{
    if(typeof node==="number")return{p:leaf(node),v:h(0)};
    const a=walk(node[1],leaf,h,vert),b=walk(node[2],leaf,h,vert),v=h(node[0]);
    const pts=vert?[[a.p,a.v],[a.p,v],[b.p,v],[b.p,b.v]]:[[a.v,a.p],[v,a.p],[v,b.p],[b.v,b.p]];
    tg.append("path").attr("d",d3.line()(pts));
    return{p:(a.p+b.p)/2,v};
  };
  walk(o.colTree,i=>x(o.cols[i])+x.bandwidth()/2,hc,true);
  walk(o.rowTree,i=>y(o.rows[i])+y.bandwidth()/2,hr,false);
  // colourbar
  const id="g"+o.title;
  const lg=svg.select("defs").append("linearGradient").attr("id",id).attr("x1",0).attr("x2",0).attr("y1",1).attr("y2",0);
  rdYlBu.forEach((s,i)=>lg.append("stop").attr("offset",i/6).attr("stop-color",s));
  const b=o.bar;
  g.append("rect").attr("x",b[0]).attr("y",b[2]).attr("width",b[1]-b[0]).attr("height",b[3]-b[2]).attr("fill",`url(#${id})`);
  const ls=d3.scaleLinear().domain(dom).range([b[3],b[2]]);
  o.ticks.forEach(t=>txt(g,String(t),b[4],ls(t)+o.tickDy,30));
  // legends
  const lx=o.legX;
  txt(g,"group",lx,o.legGroupY[0],30,{bold:true});
  ["Ctrl","CKD"].forEach((n,i)=>{
    cell(lx+1,o.legGroupY[1]+i*o.swGroup,50,o.swGroup,o.groupColors[n]);
    txt(g,n,lx+61,o.legGroupY[1]+(i+.5)*o.swGroup+2,30);
  });
  txt(g,"samples",lx,o.legSampleY[0],30,{bold:true});
  o.sampleLegend.forEach((n,i)=>{
    cell(lx+1,o.legSampleY[1]+i*o.swSample,50,o.swSample,o.sampleColors[i]);
    txt(g,n,lx+61,o.legSampleY[1]+(i+.5)*o.swSample+1,30);
  });
}
pheat({rows:eRows,cols:eCols,matrix:eMatrix,groups:eGroups,groupColors:eGroupColors,sampleLegend:eSampleLegend,sampleColors:eSampleColors,
  xr:[1212,1772],yr:[1411,2473],groupY:[1334,1366],sampleY:[1371,1404],labelX:1780,title:"GSE146638",titleX:1491,titleY:1139.5,
  colTree:eColTree,rowTree:eRowTree,colTreeRange:[1331,1168],rowTreeRange:[1211,1049.5],domain:eDomain,bar:[1943,1973,1331,1797,1986],ticks:eLegendTicks,tickDy:-2,
  legX:2031,legGroupY:[1347,1368],swGroup:51,legSampleY:[1524,1546],swSample:50.6});
pheat({rows:fRows,cols:fCols,matrix:fMatrix,groups:fGroups,groupColors:fGroupColors,sampleLegend:fSampleLegend,sampleColors:fSampleColors,
  xr:[2504,2728.5],yr:[1412.5,2474],groupY:[1336,1368],sampleY:[1372,1405],labelX:2737,title:"GSE159832",titleX:2616,titleY:1141,
  colTree:fColTree,rowTree:fRowTree,colTreeRange:[1333,1170],rowTreeRange:[2503.6,2341],domain:fDomain,bar:[2900,2930,1333,1798,2944],ticks:fLegendTicks,tickDy:0,
  legX:3007,legGroupY:[1347,1370],swGroup:51,legSampleY:[1526,1548],swSample:51});
</script>
</body></html>
